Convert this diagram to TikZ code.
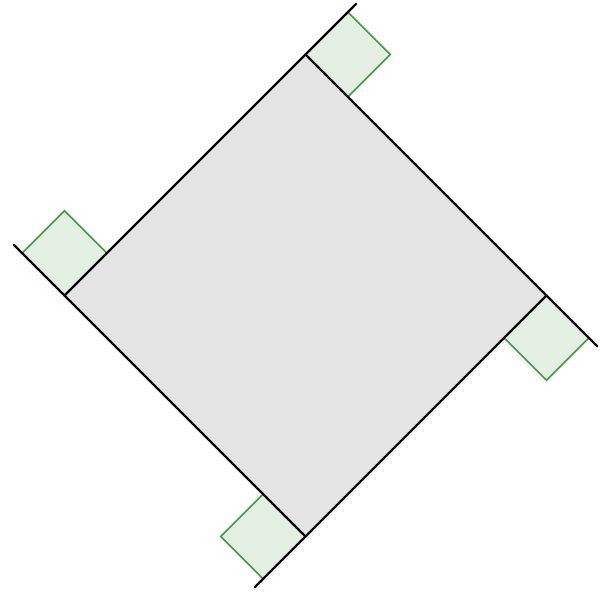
\documentclass[tikz,border=0pt]{standalone}
\usetikzlibrary{calc}
\definecolor{facegray}{HTML}{E4E4E4}
\definecolor{markfill}{HTML}{E3EFE3}
\definecolor{markgreen}{HTML}{3E9B3E}
\begin{document}
\begin{tikzpicture}[
    x=0.03cm, y=-0.03cm,
    side/.style={line width=2pt, line cap=round},
    face/.style={fill=facegray},
    corner/.style={fill=markfill},
    cornerline/.style={draw=markgreen, line width=1.4pt}
]
    \useasboundingbox (0,0) rectangle (602,592);

    % vertices of the square
    \coordinate (T) at (305.5,54.5);
    \coordinate (R) at (546.5,295.5);
    \coordinate (B) at (305.5,536.5);
    \coordinate (L) at (64.5,295.5);

    % free ends of the produced sides
    \coordinate (Te) at (356.4,3.6);
    \coordinate (Re) at (597.4,346.4);
    \coordinate (Be) at (254.6,587.4);
    \coordinate (Le) at (13.6,244.6);

    \fill[face] (T) -- (R) -- (B) -- (L) -- cycle;

    % exterior right angles
    \fill[corner] (T) -- ++(42.4,-42.4) -- ++(42.4,42.4) -- ++(-42.4,42.4) -- cycle;
    \fill[corner] (R) -- ++(42.4,42.4) -- ++(-42.4,42.4) -- ++(-42.4,-42.4) -- cycle;
    \fill[corner] (B) -- ++(-42.4,42.4) -- ++(-42.4,-42.4) -- ++(42.4,-42.4) -- cycle;
    \fill[corner] (L) -- ++(-42.4,-42.4) -- ++(42.4,-42.4) -- ++(42.4,42.4) -- cycle;

    \draw[cornerline] ($(T)+(42.4,-42.4)$) -- ++(42.4,42.4) -- ++(-42.4,42.4);
    \draw[cornerline] ($(R)+(42.4,42.4)$) -- ++(-42.4,42.4) -- ++(-42.4,-42.4);
    \draw[cornerline] ($(B)+(-42.4,42.4)$) -- ++(-42.4,-42.4) -- ++(42.4,-42.4);
    \draw[cornerline] ($(L)+(-42.4,-42.4)$) -- ++(42.4,-42.4) -- ++(42.4,42.4);

    % sides, each one produced past its end
    \draw[side] (L) -- (Te);
    \draw[side] (T) -- (Re);
    \draw[side] (R) -- (Be);
    \draw[side] (B) -- (Le);
\end{tikzpicture}
\end{document}
